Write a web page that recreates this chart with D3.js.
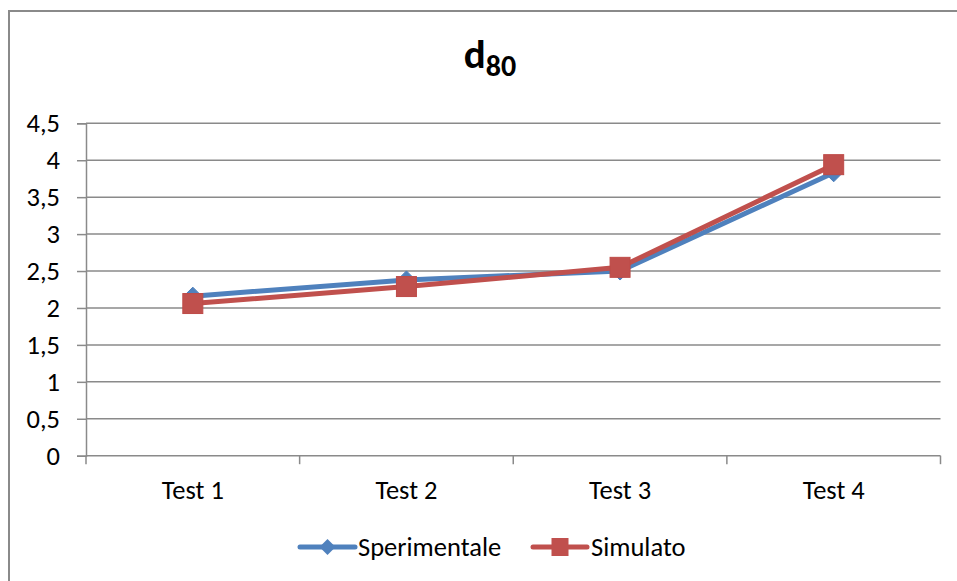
<!DOCTYPE html>
<html>
<head>
<meta charset="utf-8">
<script src="https://cdn.jsdelivr.net/npm/d3@7"></script>
<style>
  html, body { margin: 0; padding: 0; background: #fff; }
  svg { display: block; }
  text { font-family: Carlito, Lato, "Open Sans", sans-serif; fill: #000; }
</style>
</head>
<body>
<svg id="chart" width="957" height="581"></svg>
<script>
// Chart data
const categories = ["Test 1", "Test 2", "Test 3", "Test 4"];
const sperimentale = [2.16, 2.38, 2.50, 3.83];
const simulato = [2.06, 2.29, 2.55, 3.94];
const yTicks = [0, 0.5, 1, 1.5, 2, 2.5, 3, 3.5, 4, 4.5];
const seriesNames = ["Sperimentale", "Simulato"];

const W = 957, H = 581;
const plot = { left: 86, right: 940.5, top: 123.3, bottom: 455.7 };
const gridColor = "#8a8a8a";
const blue = "#4F81BD", red = "#C0504D";
const fontSize = 26.5;

const svg = d3.select("#chart");

// Outer chart frame (left and top edges)
svg.append("path")
  .attr("d", `M9,${H} L9,11 L${W},11`)
  .attr("fill", "none").attr("stroke", gridColor).attr("stroke-width", 2);

const x = d3.scaleBand().domain(categories).range([plot.left, plot.right]).padding(0);
const y = d3.scaleLinear().domain([0, 4.5]).range([plot.bottom, plot.top]);
const fmt = v => String(v).replace(".", ",");

// Horizontal gridlines
svg.append("g").selectAll("line").data(yTicks.filter(t => t > 0)).join("line")
  .attr("x1", plot.left).attr("x2", plot.right)
  .attr("y1", d => y(d)).attr("y2", d => y(d))
  .attr("stroke", gridColor).attr("stroke-width", 1.5);

// Y axis
const yAxis = svg.append("g").attr("transform", `translate(${plot.left},0)`)
  .call(d3.axisLeft(y).tickValues(yTicks).tickFormat(fmt).tickSize(9).tickPadding(17));
yAxis.select(".domain").attr("stroke", gridColor).attr("stroke-width", 1.5);
yAxis.selectAll(".tick line").attr("stroke", gridColor).attr("stroke-width", 1.5);
yAxis.selectAll(".tick text").attr("font-size", fontSize).attr("fill", "#000")
  .style("font-family", "Carlito, Lato, 'Open Sans', sans-serif");

// X axis: ticks at category boundaries
const xAxis = svg.append("g").attr("transform", `translate(0,${plot.bottom})`);
xAxis.append("line").attr("x1", plot.left).attr("x2", plot.right)
  .attr("stroke", gridColor).attr("stroke-width", 1.5);
const boundaries = categories.map(c => x(c)).concat([x(categories[categories.length - 1]) + x.bandwidth()]);
xAxis.selectAll("line.tk").data(boundaries).join("line").attr("class", "tk")
  .attr("x1", d => d).attr("x2", d => d).attr("y1", 0).attr("y2", 8.5)
  .attr("stroke", gridColor).attr("stroke-width", 1.5);
xAxis.selectAll("text").data(categories).join("text")
  .attr("x", d => x(d) + x.bandwidth() / 2).attr("y", 43.5)
  .attr("text-anchor", "middle").attr("font-size", fontSize).text(d => d);

// Series lines and markers
const cx = (d, i) => x(categories[i]) + x.bandwidth() / 2;
const line = d3.line().x((d, i) => cx(d, i)).y(d => y(d));

const diamond = (s) => `M0,${-s} L${s},0 L0,${s} L${-s},0 Z`;

svg.append("path").datum(sperimentale)
  .attr("d", line).attr("fill", "none").attr("stroke", blue)
  .attr("stroke-width", 5).attr("stroke-linejoin", "round").attr("stroke-linecap", "round");
svg.append("g").selectAll("path").data(sperimentale).join("path")
  .attr("transform", (d, i) => `translate(${cx(d, i)},${y(d)})`)
  .attr("d", diamond(9)).attr("fill", blue).attr("stroke", "#4A7EBB").attr("stroke-width", 1);

svg.append("path").datum(simulato)
  .attr("d", line).attr("fill", "none").attr("stroke", red)
  .attr("stroke-width", 5).attr("stroke-linejoin", "round").attr("stroke-linecap", "round");
svg.append("g").selectAll("rect").data(simulato).join("rect")
  .attr("x", (d, i) => cx(d, i) - 10).attr("y", d => y(d) - 10)
  .attr("width", 20).attr("height", 20)
  .attr("fill", red).attr("stroke", "#BE4B48").attr("stroke-width", 1);

// Title: d with subscript 80
const title = svg.append("text").attr("x", 490).attr("y", 68)
  .attr("text-anchor", "middle").attr("font-weight", "bold");
title.append("tspan").attr("font-size", 41).text("d");
title.append("tspan").attr("font-size", 30).attr("dy", 8).text("80");

// Legend
const legendY = 547;
const legend = svg.append("g");
const items = [
  { name: seriesNames[0], color: blue, x0: 300, x1: 355, tx: 358, marker: "diamond" },
  { name: seriesNames[1], color: red, x0: 533, x1: 587, tx: 591, marker: "square" }
];
items.forEach(it => {
  legend.append("line").attr("x1", it.x0).attr("x2", it.x1)
    .attr("y1", legendY).attr("y2", legendY)
    .attr("stroke", it.color).attr("stroke-width", 5).attr("stroke-linecap", "round");
  const mx = (it.x0 + it.x1) / 2;
  if (it.marker === "diamond") {
    legend.append("path").attr("transform", `translate(${mx},${legendY})`)
      .attr("d", diamond(8)).attr("fill", it.color);
  } else {
    legend.append("rect").attr("x", mx - 8.5).attr("y", legendY - 9)
      .attr("width", 17).attr("height", 18).attr("fill", it.color);
  }
  legend.append("text").attr("x", it.tx).attr("y", legendY + 9)
    .attr("font-size", fontSize).text(it.name);
});
</script>
</body>
</html>
